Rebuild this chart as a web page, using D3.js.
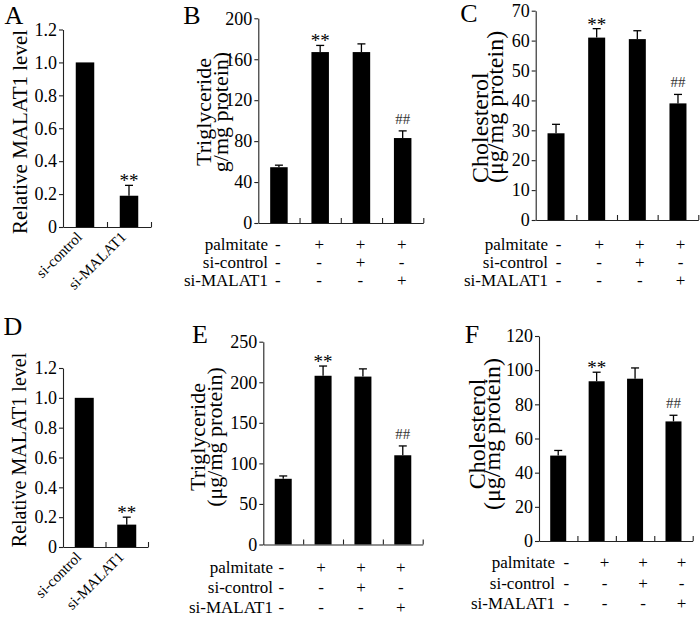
<!DOCTYPE html>
<html>
<head>
<meta charset="utf-8">
<script src="https://cdn.jsdelivr.net/npm/d3@7"></script>
<style>
  body { margin: 0; background: #fff; }
</style>
</head>
<body>
<div id="chart"></div>
<script>
// values
var knockdownGroups = ["si-control", "si-MALAT1"];
var malatA = [1.0, 0.19];
var malatErrA = [0, 0.063];
var malatD = [1.0, 0.15];
var malatErrD = [0, 0.05];
var malatMarks = ["", "**"];

var treatGroups = ["g1", "g2", "g3", "g4"];
var trigB = [54.5, 167, 167, 83];
var trigErrB = [2, 6.5, 8, 7];
var cholC = [29, 61, 60.5, 39];
var cholErrC = [3, 3, 2.8, 3];
var trigE = [81, 208, 207, 110];
var trigErrE = [3.5, 12, 9.5, 11.5];
var cholF = [50, 93.5, 95, 70];
var cholErrF = [3, 5.3, 6.3, 3.6];
var treatMarks = ["", "**", "", "##"];

// treatment table under the bars
var rowNames = ["palmitate", "si-control", "si-MALAT1"];
var palmitateSigns = ["-", "+", "+", "+"];
var siControlSigns = ["-", "-", "+", "-"];
var siMalatSigns = ["-", "-", "-", "+"];

// tick values
var ticksMalat = [0, 0.2, 0.4, 0.6, 0.8, 1.0, 1.2];
var ticksB = [0, 40, 80, 120, 160, 200];
var ticksC = [0, 10, 20, 30, 40, 50, 60, 70];
var ticksE = [0, 50, 100, 150, 200, 250];
var ticksF = [0, 20, 40, 60, 80, 100, 120];

var fmtMalat = function(d) { return d === 0 ? "0" : d.toFixed(1); };
var fmtInt = function(d) { return String(d); };

var SERIF = "'Liberation Serif', 'Times New Roman', serif";

var svg = d3.select("#chart").append("svg")
  .attr("width", 700)
  .attr("height", 623)
  .style("font-family", SERIF);

// panel layout
var panels = [
  { letter: "A", lx: 14, ly: 24, cats: knockdownGroups, values: malatA, errs: malatErrA, marks: malatMarks,
    ticks: ticksMalat, fmt: fmtMalat, x0: 63, x1: 151, y0: 227, yTop: 29.5, barW: 18.5,
    title: ["Relative MALAT1 level"], titleX: [27], titleY: 132, titleSize: 21, titleAnchor: "middle",
    rotLabels: true },
  { letter: "B", lx: 192, ly: 24, cats: treatGroups, values: trigB, errs: trigErrB, marks: treatMarks,
    ticks: ticksB, fmt: fmtInt, x0: 258.3, x1: 423.3, y0: 223, yTop: 18.3, barW: 17.5,
    title: ["Triglyceride", "g/mg protein)"], titleX: [211, 228], titleY: 112, titleSize: 22, titleAnchor: "middle",
    table: { rows: [244, 262, 280], labelEnd: 268, shift: -1 } },
  { letter: "C", lx: 469, ly: 22, cats: treatGroups, values: cholC, errs: cholErrC, marks: treatMarks,
    ticks: ticksC, fmt: fmtInt, x0: 535.7, x1: 698.3, y0: 220, yTop: 10.7, barW: 17,
    title: ["Cholesterol", "(\u03bcg/mg protein)"], titleX: [488, 503], titleY: 183, titleSize: 24, titleAnchor: "start",
    table: { rows: [244, 262, 280], labelEnd: 548, shift: 2.5 } },
  { letter: "D", lx: 13, ly: 335, cats: knockdownGroups, values: malatD, errs: malatErrD, marks: malatMarks,
    ticks: ticksMalat, fmt: fmtMalat, x0: 63, x1: 148, y0: 547, yTop: 368, barW: 19,
    title: ["Relative MALAT1 level"], titleX: [26], titleY: 450, titleSize: 20, titleAnchor: "middle",
    rotLabels: true },
  { letter: "E", lx: 200, ly: 343, cats: treatGroups, values: trigE, errs: trigErrE, marks: treatMarks,
    ticks: ticksE, fmt: fmtInt, x0: 263.3, x1: 422.7, y0: 544.5, yTop: 341.7, barW: 17,
    title: ["Triglyceride", "(\u03bcg/mg protein)"], titleX: [205, 222], titleY: 437, titleSize: 22, titleAnchor: "middle",
    table: { rows: [567, 587, 607], labelEnd: 273, shift: -2 } },
  { letter: "F", lx: 472, ly: 343, cats: treatGroups, values: cholF, errs: cholErrF, marks: treatMarks,
    ticks: ticksF, fmt: fmtInt, x0: 539, x1: 692.7, y0: 541, yTop: 336, barW: 16,
    title: ["Cholesterol", "(\u03bcg/mg protein)"], titleX: [485, 500], titleY: 434, titleSize: 24, titleAnchor: "middle",
    table: { rows: [562, 583, 603], labelEnd: 555, shift: 8 } }
];

function addText(sel, size) {
  return sel.append("text")
    .style("font-family", SERIF)
    .style("font-size", size + "px")
    .style("fill", "#000");
}

function drawPanel(p) {
  var g = svg.append("g");
  var n = p.cats.length;
  var x = d3.scaleBand().domain(p.cats).range([p.x0, p.x1]).padding(0);
  var y = d3.scaleLinear().domain([0, d3.max(p.ticks)]).range([p.y0, p.yTop]);
  var cx = function(i) { return x(p.cats[i]) + x.bandwidth() / 2; };

  // bars
  g.selectAll("rect.bar")
    .data(p.values)
    .enter()
    .append("rect")
    .attr("class", "bar")
    .attr("x", function(d, i) { return cx(i) - p.barW / 2; })
    .attr("y", function(d) { return y(d); })
    .attr("width", p.barW)
    .attr("height", function(d) { return p.y0 - y(d); })
    .attr("fill", "#000");

  // error bars (upper half only)
  p.values.forEach(function(v, i) {
    var e = p.errs[i];
    if (!e) return;
    g.append("line")
      .attr("x1", cx(i)).attr("x2", cx(i))
      .attr("y1", y(v)).attr("y2", y(v + e))
      .attr("stroke", "#000").attr("stroke-width", 1.3);
    g.append("line")
      .attr("x1", cx(i) - 4).attr("x2", cx(i) + 4)
      .attr("y1", y(v + e)).attr("y2", y(v + e))
      .attr("stroke", "#000").attr("stroke-width", 1.3);
  });

  // significance marks
  p.marks.forEach(function(m, i) {
    if (!m) return;
    var top = y(p.values[i] + p.errs[i]);
    var star = m === "**";
    addText(g, star ? 19 : 15)
      .attr("x", cx(i))
      .attr("y", star ? top + 2 : top - 7)
      .attr("text-anchor", "middle")
      .style("fill", star ? "#000" : "#333")
      .text(m);
  });

  // y axis
  var yAxis = g.append("g")
    .attr("transform", "translate(" + p.x0 + ",0)")
    .call(d3.axisLeft(y).tickValues(p.ticks).tickSize(4).tickSizeOuter(0).tickPadding(2).tickFormat(p.fmt));
  yAxis.selectAll("text")
    .style("font-family", SERIF)
    .style("font-size", "18px");

  // x axis with ticks at the group boundaries
  var xb = d3.scaleLinear().domain([0, n]).range([p.x0, p.x1]);
  g.append("g")
    .attr("transform", "translate(0," + p.y0 + ")")
    .call(d3.axisBottom(xb).tickValues(d3.range(1, n + 1)).tickSize(-5).tickSizeOuter(0).tickFormat(""));

  g.selectAll(".domain, .tick line").attr("stroke", "#222").attr("stroke-width", 1.1);

  // y title
  p.title.forEach(function(t, k) {
    addText(g, p.titleSize)
      .attr("transform", "translate(" + p.titleX[k] + "," + p.titleY + ") rotate(-90)")
      .attr("text-anchor", p.titleAnchor)
      .text(t);
  });

  // panel letter
  addText(g, 26)
    .attr("x", p.lx).attr("y", p.ly)
    .attr("text-anchor", "middle")
    .text(p.letter);

  // rotated category labels
  if (p.rotLabels) {
    p.cats.forEach(function(c, i) {
      addText(g, 15)
        .attr("transform", "translate(" + (cx(i) - 2) + "," + (p.y0 + 11) + ") rotate(-45)")
        .attr("text-anchor", "end")
        .text(c);
    });
  }

  // treatment table
  if (p.table) {
    var signs = [palmitateSigns, siControlSigns, siMalatSigns];
    rowNames.forEach(function(name, r) {
      var ry = p.table.rows[r];
      addText(g, 17)
        .attr("x", p.table.labelEnd).attr("y", ry)
        .attr("dy", "0.35em")
        .attr("text-anchor", "end")
        .text(name);
      signs[r].forEach(function(s, i) {
        addText(g, 17)
          .attr("x", cx(i) + p.table.shift).attr("y", ry)
          .attr("dy", "0.35em")
          .attr("text-anchor", "middle")
          .text(s);
      });
    });
  }
}

panels.forEach(drawPanel);
</script>
</body>
</html>
